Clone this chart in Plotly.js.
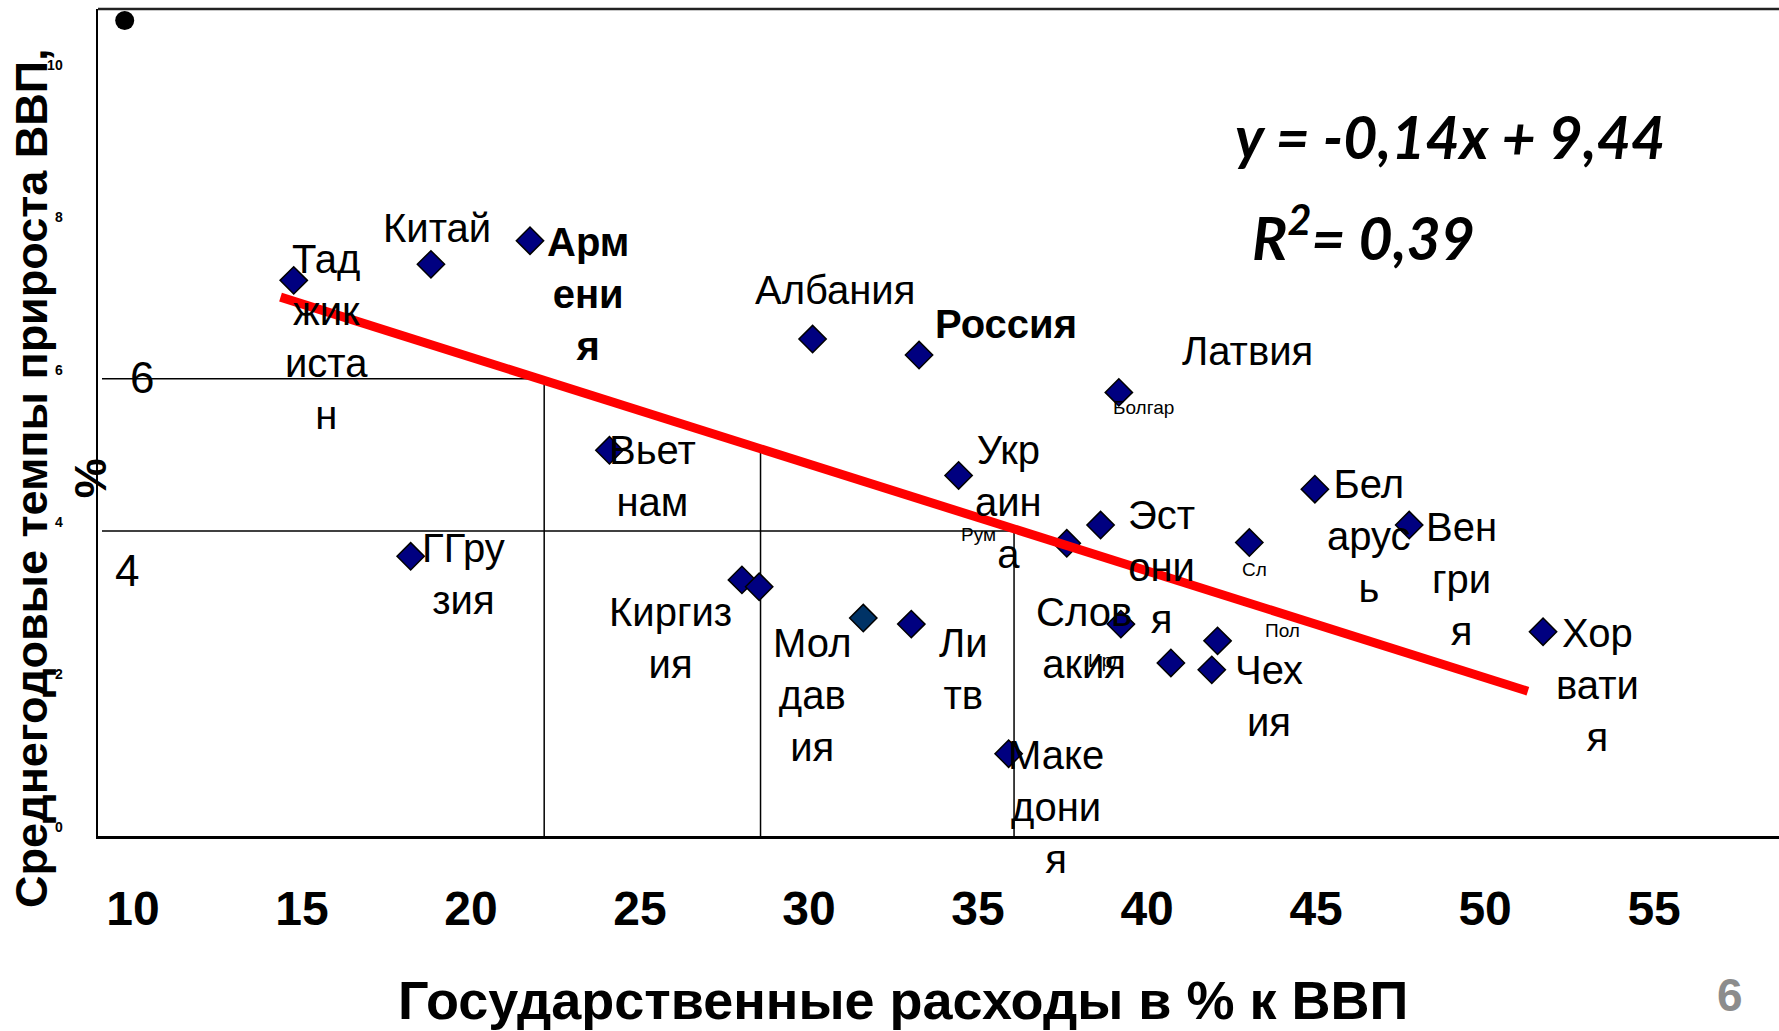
<!DOCTYPE html>
<html><head><meta charset="utf-8">
<script src="https://cdn.plot.ly/plotly-3.0.1.min.js"></script>
<style>html,body{margin:0;padding:0;background:#fff}#chart{width:1779px;height:1031px}</style>
</head><body><div id="chart"></div>
<script>
// ---- data ----
const countries = ['Таджикистан','Китай','Армения','Грузия','Вьетнам','Киргизия','',
  'Албания','Молдавия','Литва','Россия','Украина','Македония','Румыния','Эстония',
  'Болгария','Словакия','Ирландия','Чехия','Польша','Словения','Беларусь','Венгрия','Хорватия'];
const govSpending = [15.79,19.85,22.78,19.25,25.13,29.05,29.56,
  31.14,32.64,34.06,34.29,35.46,36.94,38.66,39.66,
  40.20,40.26,41.74,42.95,43.12,44.06,46.00,48.79,52.75];
const gdpGrowth = [7.29,7.50,7.81,3.67,5.06,3.36,3.27,
  6.52,2.86,2.78,6.31,4.73,1.08,3.84,4.08,
  5.82,2.78,2.27,2.18,2.56,3.85,4.55,4.08,2.68];
const pointLabels = ['Тад<br>жик<br>иста<br>н','Китай','<b>Арм<br>ени<br>я</b>','ГГру<br>зия','Вьет<br>нам','Киргиз<br>ия','',
  'Албания','Мол<br>дав<br>ия','Ли<br>тв','<b>Россия</b>','Укр<br>аин<br>а','Маке<br>дони<br>я','Рум','Эст<br>они<br>я',
  'Болгар','Слов<br>акия','Ирл','Чех<br>ия','Пол','Сл','Бел<br>арус<br>ь','Вен<br>гри<br>я','Хор<br>вати<br>я'];
const extraLabelText = 'Латвия';
const outlierX = [10.79];
const outlierY = [10.70];
const trendX = [15.4, 52.3];
const trendY = [7.07, 1.90];
const quadVX = [23.2, 29.6, 37.1];
const quadVTop = [6, 5.1, 4];
const quadHY = [6, 4];
const quadHEnd = [23.2, 37.1];
const xTickVals = [10,15,20,25,30,35,40,45,50,55];
const yTickVals = [0,2,4,6,8,10];
const equationText = '<b><i>y = -0,14x + 9,44</i></b>';
const r2Text = '<b><i>R<sup>2</sup>= 0,39</i></b>';
const xTitle = '<b>Государственные расходы в % к ВВП</b>';
const yTitle = '<b>Среднегодовые темпы прироста ВВП,<br>%</b>';
const pageNumber = '6';

// ---- label placement (pixel offsets from each point) ----
const SMALL = 19, BIG = 40;
const labelOffsets = [[33,-57,BIG],[6,36,BIG],[58,-53,BIG],[53,-18,BIG],[43,-26,BIG],[-71,-58,BIG],null,
  [22,49,BIG],[-51,-77,BIG],[52,-45,BIG],[87,31,BIG],[50,-27,BIG],[47,-53,BIG],[-88,9,SMALL],[61,-42,BIG],
  [25,-15,SMALL],[-37,-14,BIG],[-65,2,SMALL],[57,-26,BIG],[65,10,SMALL],[5,-27,SMALL],[54,-47,BIG],[52,-54,BIG],[54,-53,BIG]];
const latviaOffset = [129, 41];
const FONT = 'Liberation Sans, Arial, sans-serif';

// quadrant segments
const qx = [], qy = [];
quadVX.forEach((v,i)=>{ qx.push(v,v,null); qy.push(0,quadVTop[i],null); });
quadHY.forEach((v,i)=>{ qx.push(10,quadHEnd[i],null); qy.push(v,v,null); });

const markerFill = countries.map(c => c==='Молдавия' ? '#003366' : '#000080');

const traces = [
  {x:qx, y:qy, mode:'lines', line:{color:'#000', width:1.5}, hoverinfo:'skip', showlegend:false},
  {x:govSpending, y:gdpGrowth, text:countries, mode:'markers', type:'scatter', showlegend:false,
   marker:{symbol:'diamond', size:21, color:markerFill, line:{color:'#000', width:1.5}}},
  {x:outlierX, y:outlierY, mode:'markers', showlegend:false, marker:{symbol:'circle', size:19, color:'#000'}},
  {x:trendX, y:trendY, mode:'lines', showlegend:false, line:{color:'#ff0000', width:9}}
];

const annotations = [];
pointLabels.forEach((t,i)=>{
  if(!t || !labelOffsets[i]) return;
  const o = labelOffsets[i];
  annotations.push({x:govSpending[i], y:gdpGrowth[i], xref:'x', yref:'y', text:t, showarrow:false,
    xshift:o[0], yshift:o[1], xanchor:'center', yanchor:'middle', font:{family:FONT, size:o[2], color:'#000'}});
});
const bi = countries.indexOf('Болгария');
annotations.push({x:govSpending[bi], y:gdpGrowth[bi], xref:'x', yref:'y', text:extraLabelText, showarrow:false,
  xshift:latviaOffset[0], yshift:latviaOffset[1], xanchor:'center', yanchor:'middle', font:{family:FONT, size:BIG, color:'#000'}});
// quadrant numbers
annotations.push({x:11.30, y:6.02, xref:'x', yref:'y', text:'6', showarrow:false, xanchor:'center', yanchor:'middle', font:{family:FONT, size:44, color:'#000'}});
annotations.push({x:10.86, y:3.48, xref:'x', yref:'y', text:'4', showarrow:false, xanchor:'center', yanchor:'middle', font:{family:FONT, size:44, color:'#000'}});
// equation
annotations.push({x:0.804, y:0.846, xref:'paper', yref:'paper', text:equationText, showarrow:false,
  xanchor:'center', yanchor:'middle', font:{family:'Lato, Open Sans, sans-serif', size:59, color:'#000'}});
annotations.push({x:0.753, y:0.728, xref:'paper', yref:'paper', text:r2Text, showarrow:false,
  xanchor:'center', yanchor:'middle', font:{family:'Lato, Open Sans, sans-serif', size:59, color:'#000'}});
// axis titles
annotations.push({x:0.479, y:-0.198, xref:'paper', yref:'paper', text:xTitle, showarrow:false,
  xanchor:'center', yanchor:'middle', font:{family:FONT, size:54, color:'#000'}});
annotations.push({x:-0.022, y:0.433, xref:'paper', yref:'paper', text:yTitle, showarrow:false, textangle:-90,
  xanchor:'center', yanchor:'middle', font:{family:FONT, size:45, color:'#000'}});
annotations.push({x:0.971, y:-0.192, xref:'paper', yref:'paper', text:'<b>'+pageNumber+'</b>', showarrow:false,
  xanchor:'center', yanchor:'middle', font:{family:FONT, size:46, color:'#8c8c8c'}});

const layout = {
  width:1779, height:1031, margin:{l:98, r:0, t:9, b:195},
  paper_bgcolor:'#fff', plot_bgcolor:'#fff', showlegend:false, hovermode:false,
  xaxis:{range:[10,59.73], tickvals:xTickVals, ticktext:xTickVals.map(String), showgrid:false, zeroline:false,
    showline:true, linecolor:'#000', linewidth:3, ticks:'inside', ticklen:4, tickwidth:2, tickcolor:'#fff',
    tickfont:{family:FONT, size:48, color:'#000', weight:'bold'}, ticklabelstandoff:28, ticklabelshift:35},
  yaxis:{range:[0,10.85], tickvals:yTickVals, ticktext:yTickVals.map(String), showgrid:false, zeroline:false,
    showline:true, linecolor:'#000', linewidth:2.5, ticks:'inside', ticklen:4, tickwidth:2, tickcolor:'#fff',
    tickfont:{family:FONT, size:14, color:'#000', weight:'bold'}, ticklabelstandoff:30, ticklabelshift:-9},
  shapes:[{type:'line', xref:'paper', yref:'paper', x0:0, x1:1, y0:1, y1:1, line:{color:'#222', width:2.5}}],
  annotations:annotations
};
Plotly.newPlot('chart', traces, layout, {staticPlot:true});
</script></body></html>
